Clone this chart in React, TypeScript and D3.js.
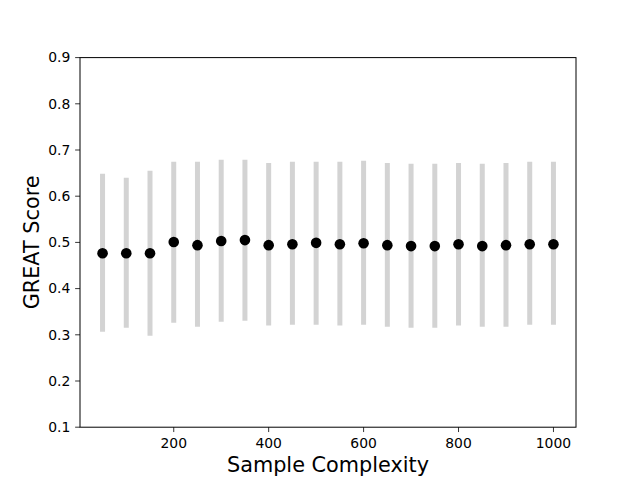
import React from "react";
import * as d3 from "d3";

const sampleSizes = [50, 100, 150, 200, 250, 300, 350, 400, 450, 500, 550, 600, 650, 700, 750, 800, 850, 900, 950, 1000];
const meanScores = [0.4765, 0.4765, 0.4765, 0.501, 0.494, 0.503, 0.505, 0.494, 0.496, 0.499, 0.496, 0.498, 0.494, 0.492, 0.492, 0.496, 0.492, 0.494, 0.496, 0.496];
const upperScores = [0.6485, 0.640, 0.655, 0.6745, 0.6745, 0.679, 0.679, 0.672, 0.6745, 0.6745, 0.6745, 0.6767, 0.672, 0.670, 0.670, 0.672, 0.670, 0.672, 0.6745, 0.6745];
const lowerScores = [0.3067, 0.3154, 0.298, 0.326, 0.3175, 0.328, 0.3305, 0.320, 0.3218, 0.322, 0.320, 0.322, 0.3175, 0.3153, 0.3153, 0.320, 0.3175, 0.3175, 0.322, 0.322];
const xTicks = [200, 400, 600, 800, 1000];
const yTicks = [0.1, 0.2, 0.3, 0.4, 0.5, 0.6, 0.7, 0.8, 0.9];

const W = 640, H = 480;
const L = 80, R = 576, T = 57.6, B = 427.2;
const FONT = "DejaVu Sans, sans-serif";

export default function App() {
  const x = d3.scaleLinear().domain([2.5, 1047.5]).range([L, R]);
  const y = d3.scaleLinear().domain([0.1, 0.9]).range([B, T]);
  const tickLen = 4.86;
  return (
    <svg width={W} height={H} style={{ position: "absolute", left: 0, top: 0, background: "#fff" }} fontFamily={FONT}>
      <rect x={0} y={0} width={W} height={H} fill="#fff" />
      {sampleSizes.map((s, i) => (
        <line key={"e" + i} x1={x(s)} x2={x(s)} y1={y(lowerScores[i])} y2={y(upperScores[i])} stroke="#d3d3d3" strokeWidth={5} />
      ))}
      {sampleSizes.map((s, i) => (
        <circle key={"p" + i} cx={x(s)} cy={y(meanScores[i])} r={5.3} fill="#000" />
      ))}
      <rect x={L} y={T} width={R - L} height={B - T} fill="none" stroke="#000" strokeWidth={1} />
      {xTicks.map((t) => (
        <g key={"x" + t}>
          <line x1={x(t)} x2={x(t)} y1={B} y2={B + tickLen} stroke="#000" strokeWidth={0.8} />
          <text x={x(t)} y={B + tickLen + 4.9} dy="0.76em" textAnchor="middle" fontSize={13.9} fill="#000">{t}</text>
        </g>
      ))}
      {yTicks.map((t) => (
        <g key={"y" + t}>
          <line x1={L - tickLen} x2={L} y1={y(t)} y2={y(t)} stroke="#000" strokeWidth={0.8} />
          <text x={L - tickLen - 4.9} y={y(t)} dy="0.35em" textAnchor="end" fontSize={13.9} fill="#000">{t.toFixed(1)}</text>
        </g>
      ))}
      <text x={(L + R) / 2} y={472} textAnchor="middle" fontSize={20.8} fill="#000">Sample Complexity</text>
      <text transform={`translate(39, ${(T + B) / 2}) rotate(-90)`} textAnchor="middle" fontSize={20.8} fill="#000">GREAT Score</text>
    </svg>
  );
}
